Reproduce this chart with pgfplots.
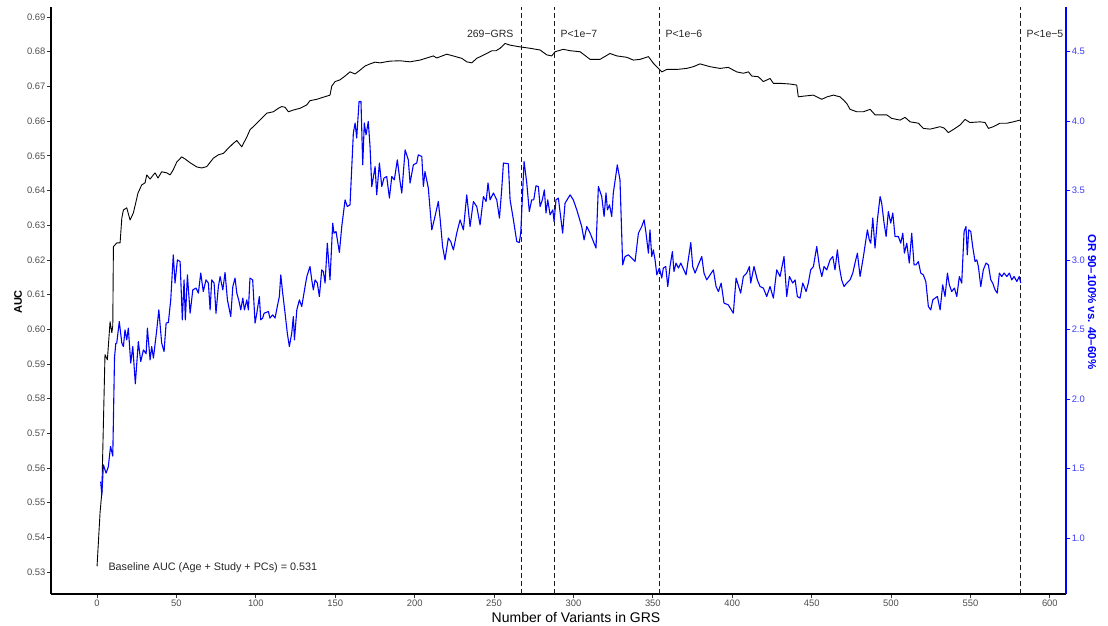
\documentclass[border=0pt]{standalone}
\usepackage{fontspec}
\setmainfont{Liberation Sans}
\usepackage{pgfplots}
\pgfplotsset{compat=1.18}
\definecolor{tickgrey}{RGB}{77,77,77}
\definecolor{tickdark}{RGB}{51,51,51}
\definecolor{orblue}{RGB}{0,0,255}
\definecolor{orlab}{RGB}{60,60,255}
\pgfplotsset{/pgf/number format/assume math mode=true}
\begin{document}
\begin{tikzpicture}[x=1pt,y=1pt]
\useasboundingbox (0,0) rectangle (1108,625);
\begin{axis}[
  at={(51pt,31pt)}, anchor=south west,
  scale only axis, width=1015pt, height=587pt,
  xmin=-29, xmax=610.2, ymin=0.5237, ymax=0.6929,
  axis x line*=bottom, axis y line*=left,
  axis line style={-, line width=1.3pt, black},
  xtick={0,50,100,150,200,250,300,350,400,450,500,550,600},
  ytick={0.53,0.54,0.55,0.56,0.57,0.58,0.59,0.60,0.61,0.62,0.63,0.64,0.65,0.66,0.67,0.68,0.69},
  tick align=outside, major tick length=4pt,
  tick style={tickdark, line width=0.8pt},
  ticklabel style={font=\fontsize{9.4}{10}\selectfont, text=tickgrey, inner sep=1.5pt},
  yticklabel style={/pgf/number format/.cd, fixed, fixed zerofill, precision=2},
  xticklabel style={/pgf/number format/.cd, fixed, precision=0},
]
\addplot[black, line width=0.9pt, line join=round] coordinates {
(0,0.5317) (1.9,0.5472) (3.0,0.5529) (5.0,0.5927) (6.5,0.5912) (8.2,0.6022) (9.3,0.5990) (9.9,0.6010) (10.3,0.6238) (12.4,0.6249) (14.5,0.6249) (15.6,0.6321) (16.6,0.6344) (18.7,0.6350) (20.8,0.6315) (22.9,0.6336) (25.8,0.6393) (28.1,0.6416) (30.2,0.6422) (31.3,0.6445) (33.4,0.6433) (36.5,0.6451) (38.4,0.6436) (40.7,0.6454) (43.9,0.6451) (46.0,0.6445) (47.9,0.6459) (50.2,0.6482) (53.3,0.6497) (55.4,0.6491) (58.6,0.6480) (62.8,0.6468) (65.9,0.6465) (69.1,0.6469) (73.2,0.6493) (76.4,0.6503) (79.5,0.6507) (82.7,0.6522) (85.8,0.6536) (88.0,0.6544) (91.1,0.6526) (94.3,0.6554) (96.3,0.6575) (99.5,0.6589) (103.7,0.6608) (106.9,0.6623) (111.0,0.6627) (114.2,0.6637) (116.3,0.6642) (118.4,0.6640) (120.5,0.6627) (123.6,0.6632) (127.8,0.6637) (132.1,0.6647) (134.1,0.6659) (138.4,0.6663) (142.5,0.6669) (146.7,0.6675) (147.8,0.6701) (149.9,0.6714) (153.0,0.6719) (156.2,0.6730) (159.3,0.6742) (162.5,0.6736) (165.6,0.6747) (168.8,0.6759) (171.9,0.6765) (175.1,0.6770) (178.2,0.6768) (184.5,0.6773) (190.8,0.6774) (197.0,0.6771) (203.4,0.6776) (211.8,0.6788) (213.9,0.6782) (220.2,0.6793) (224.2,0.6788) (229.7,0.6781) (232.8,0.6771) (236.0,0.6768) (239.1,0.6781) (245.4,0.6795) (248.6,0.6803) (251.3,0.6803) (253.8,0.6810) (256.9,0.6824) (260.1,0.6819) (266.4,0.6814) (272.7,0.6810) (279.0,0.6805) (283.2,0.6791) (286.3,0.6788) (288.4,0.6800) (293.6,0.6807) (297.9,0.6803) (304.2,0.6800) (310.5,0.6778) (316.7,0.6778) (323.0,0.6795) (327.3,0.6788) (333.6,0.6784) (337.7,0.6776) (341.9,0.6778) (347.2,0.6786) (350.3,0.6767) (353.5,0.6752) (355.6,0.6742) (358.8,0.6749) (365.1,0.6749) (371.3,0.6752) (375.5,0.6757) (379.7,0.6765) (386.0,0.6757) (392.3,0.6752) (397.5,0.6755) (402.8,0.6742) (407.0,0.6738) (410.2,0.6742) (412.3,0.6730) (416.4,0.6728) (419.6,0.6714) (423.8,0.6723) (425.9,0.6709) (430.1,0.6709) (436.4,0.6707) (440.6,0.6704) (441.6,0.6670) (444.8,0.6672) (451.1,0.6675) (456.4,0.6663) (459.7,0.6670) (463.7,0.6675) (467.9,0.6670) (470.0,0.6661) (472.1,0.6651) (474.2,0.6634) (478.4,0.6627) (482.6,0.6627) (486.8,0.6634) (490.0,0.6618) (497.3,0.6618) (500.4,0.6608) (505.7,0.6603) (508.8,0.6611) (512.0,0.6598) (517.2,0.6594) (520.4,0.6579) (524.6,0.6577) (530.9,0.6584) (533.4,0.6580) (536.1,0.6567) (540.3,0.6579) (543.5,0.6589) (546.6,0.6605) (549.7,0.6596) (556.0,0.6598) (559.2,0.6596) (561.3,0.6579) (564.4,0.6584) (568.6,0.6594) (572.9,0.6594) (577.0,0.6598) (581.2,0.6603)
};
\addplot[black!90, line width=0.9pt, dash pattern=on 5pt off 3pt] coordinates {(267,0.5237) (267,0.6929)};
\addplot[black!90, line width=0.9pt, dash pattern=on 5pt off 3pt] coordinates {(288,0.5237) (288,0.6929)};
\addplot[black!90, line width=0.9pt, dash pattern=on 5pt off 3pt] coordinates {(354,0.5237) (354,0.6929)};
\addplot[black!90, line width=0.9pt, dash pattern=on 5pt off 3pt] coordinates {(581.2,0.5237) (581.2,0.6929)};
\end{axis}
\begin{axis}[
  at={(51pt,31pt)}, anchor=south west,
  scale only axis, width=1015pt, height=587pt,
  xmin=-29, xmax=610.2, ymin=0.597, ymax=4.822,
  axis x line=none, axis y line*=right,
  axis line style={-, line width=1.3pt, orblue},
  xtick=\empty,
  ytick={1.0,1.5,2.0,2.5,3.0,3.5,4.0,4.5},
  tick align=outside, major tick length=4pt,
  y tick style={orblue, line width=0.8pt},
  yticklabel style={font=\fontsize{9.4}{10}\selectfont, text=orlab, inner sep=1.5pt, /pgf/number format/.cd, fixed, fixed zerofill, precision=1},
]
\addplot[orblue, line width=1.1pt, line join=round] coordinates {
(2.3,1.406) (3.0,1.310) (4.0,1.526) (5.7,1.467) (7.1,1.514) (8.5,1.660) (9.9,1.590) (11.0,2.300) (11.8,2.400) (12.4,2.403) (14.0,2.558) (15.6,2.403) (16.6,2.378) (17.6,2.498) (18.7,2.426) (19.7,2.511) (21.2,2.259) (22.5,2.378) (24.1,2.110) (26.0,2.414) (27.5,2.270) (29.2,2.354) (30.9,2.326) (31.7,2.511) (33.4,2.282) (34.4,2.378) (35.5,2.295) (37.6,2.498) (38.9,2.642) (40.7,2.403) (42.2,2.342) (43.5,2.547) (44.9,2.551) (46.4,2.714) (48.0,3.038) (49.1,2.835) (50.6,3.002) (52.3,2.990) (53.7,2.570) (54.8,2.858) (55.6,2.570) (56.9,2.894) (58.6,2.618) (60.3,2.786) (62.3,2.799) (63.8,2.763) (65.3,2.907) (66.9,2.774) (68.6,2.858) (70.1,2.835) (71.2,2.642) (72.2,2.858) (73.7,2.835) (74.9,2.618) (76.4,2.810) (77.5,2.882) (79.2,2.786) (80.6,2.911) (82.1,2.714) (84.2,2.594) (85.5,2.810) (86.9,2.871) (88.0,2.763) (89.2,2.714) (90.5,2.642) (91.8,2.727) (92.8,2.642) (94.3,2.714) (95.3,2.642) (96.3,2.871) (98.0,2.858) (99.5,2.547) (100.6,2.618) (102.2,2.738) (103.1,2.570) (104.3,2.583) (105.2,2.618) (107.9,2.630) (108.9,2.583) (110.6,2.606) (112.1,2.583) (113.5,2.666) (114.8,2.738) (115.7,2.894) (116.9,2.763) (118.4,2.618) (119.8,2.475) (121.1,2.378) (122.6,2.475) (123.6,2.594) (124.3,2.426) (125.8,2.642) (127.4,2.714) (128.9,2.666) (131.0,2.810) (132.1,2.882) (134.1,2.954) (135.2,2.858) (136.2,2.786) (137.3,2.858) (138.7,2.835) (140.0,2.738) (141.5,2.930) (142.5,2.918) (143.6,2.835) (145.0,3.122) (146.7,2.858) (148.4,3.266) (149.2,3.194) (150.5,3.206) (152.6,3.055) (154.1,3.242) (156.2,3.434) (157.6,3.386) (159.3,3.398) (161.4,3.915) (162.5,3.987) (163.5,3.879) (165.0,4.142) (166.2,4.142) (167.3,3.686) (168.3,3.987) (169.4,3.902) (170.8,3.998) (171.9,3.818) (173.0,3.530) (175.1,3.674) (176.1,3.470) (177.8,3.699) (179.3,3.530) (180.7,3.591) (182.4,3.602) (184.1,3.447) (185.6,3.602) (187.2,3.578) (189.1,3.722) (190.8,3.566) (191.9,3.483) (194.0,3.794) (196.0,3.722) (197.1,3.555) (199.2,3.686) (201.3,3.699) (202.3,3.758) (204.5,3.746) (205.5,3.530) (206.5,3.638) (208.6,3.519) (210.8,3.218) (212.8,3.314) (214.9,3.422) (216.0,3.303) (217.6,3.098) (219.1,3.002) (221.2,3.159) (222.7,3.134) (224.4,3.074) (226.5,3.194) (228.6,3.290) (230.7,3.218) (232.8,3.470) (234.9,3.242) (237.0,3.422) (239.1,3.386) (241.2,3.254) (243.3,3.458) (245.0,3.422) (246.2,3.555) (247.5,3.434) (249.6,3.483) (251.7,3.434) (253.4,3.302) (254.8,3.506) (255.9,3.699) (259.0,3.694) (260.1,3.434) (262.2,3.290) (264.3,3.134) (265.9,3.127) (266.8,3.194) (268.9,3.710) (270.6,3.555) (272.2,3.350) (273.7,3.434) (275.0,3.434) (276.4,3.535) (277.9,3.530) (279.0,3.386) (280.4,3.434) (281.7,3.506) (282.7,3.339) (283.8,3.434) (285.3,3.326) (287.0,3.362) (287.8,3.278) (289.0,3.434) (290.5,3.447) (293.2,3.194) (294.7,3.410) (297.9,3.470) (299.9,3.434) (302.1,3.362) (305.2,3.242) (306.7,3.146) (308.4,3.242) (310.5,3.194) (314.2,3.087) (315.7,3.530) (317.8,3.458) (319.3,3.314) (320.5,3.483) (321.4,3.362) (322.7,3.398) (324.1,3.314) (325.1,3.483) (326.6,3.602) (327.6,3.686) (329.3,3.578) (331.0,2.966) (332.5,3.026) (334.6,3.038) (338.8,2.990) (340.9,3.194) (343.0,3.242) (344.5,3.290) (345.7,3.194) (347.2,3.050) (348.2,3.218) (349.3,3.026) (350.3,3.074) (351.4,3.002) (352.5,2.894) (354.1,2.943) (355.6,2.871) (356.6,2.943) (358.1,2.954) (359.4,2.810) (360.8,2.954) (362.3,3.062) (363.3,2.918) (364.6,2.979) (366.1,2.943) (367.6,2.979) (370.9,2.894) (373.9,3.127) (375.1,2.954) (376.6,2.907) (378.6,2.966) (380.8,3.026) (382.2,2.907) (383.9,2.858) (388.1,2.930) (389.8,2.810) (391.3,2.774) (393.0,2.835) (394.8,2.691) (397.5,2.678) (400.7,2.618) (402.4,2.871) (405.3,2.763) (407.0,2.882) (409.1,2.907) (410.8,2.954) (411.6,2.835) (413.7,2.954) (415.8,2.858) (417.5,2.810) (419.6,2.799) (421.7,2.738) (423.8,2.810) (425.9,2.727) (428.0,2.930) (430.1,2.882) (432.6,3.026) (434.3,2.738) (436.0,2.882) (438.1,2.835) (439.6,2.858) (441.0,2.738) (442.7,2.727) (444.4,2.835) (446.5,2.774) (447.9,2.835) (449.4,2.930) (451.1,2.954) (453.2,3.098) (454.9,2.954) (456.4,2.882) (457.8,2.954) (459.5,2.930) (461.6,3.002) (463.3,3.026) (464.7,2.930) (466.2,3.074) (467.4,2.954) (468.9,2.858) (470.4,2.810) (472.1,2.835) (474.2,2.858) (475.9,2.907) (477.3,2.979) (478.8,3.050) (480.5,2.882) (482.6,3.026) (485.1,3.218) (486.3,3.146) (487.2,3.122) (488.5,3.303) (489.9,3.087) (491.4,3.290) (493.1,3.458) (494.1,3.411) (495.6,3.267) (496.9,3.170) (498.3,3.350) (499.8,3.267) (501.1,3.339) (502.5,3.170) (504.6,3.170) (506.1,3.122) (507.4,3.194) (508.4,3.050) (509.9,3.122) (511.5,2.979) (513.0,3.194) (514.5,2.966) (515.7,2.966) (517.2,2.990) (518.7,2.907) (520.3,2.894) (521.9,2.846) (523.5,2.666) (525.0,2.642) (526.3,2.714) (527.7,2.727) (529.2,2.738) (530.9,2.642) (532.5,2.822) (534.0,2.738) (535.5,2.907) (536.7,2.822) (538.2,2.774) (539.9,2.799) (541.4,2.738) (543.0,2.882) (544.5,2.835) (546.0,3.206) (547.2,3.242) (548.0,3.038) (548.9,3.218) (550.2,3.206) (551.4,3.098) (552.9,2.990) (554.0,3.002) (555.0,2.954) (556.5,2.810) (558.1,2.930) (559.8,2.979) (561.3,2.966) (562.8,2.858) (564.0,2.835) (565.5,2.786) (566.9,2.763) (568.2,2.907) (569.7,2.882) (571.2,2.907) (572.9,2.882) (574.5,2.907) (576.0,2.858) (577.5,2.882) (579.2,2.846) (580.7,2.882) (581.7,2.835)
};
\end{axis}
\node[rotate=90, font=\fontsize{11}{13}\selectfont\bfseries] at (18,323) {AUC};
\node[rotate=-90, font=\fontsize{11.5}{13}\selectfont\bfseries, text=orblue] at (1092,323) {OR 90–100\% vs. 40–60\%};
\node[font=\fontsize{14}{16}\selectfont] at (576,8) {Number of Variants in GRS};
\node[anchor=east, font=\fontsize{10.5}{12}\selectfont, text=black!85] at (517,591) {269−GRS};
\node[anchor=west, font=\fontsize{10.5}{12}\selectfont, text=black!85] at (557,591) {P<1e−7};
\node[anchor=west, font=\fontsize{10.5}{12}\selectfont, text=black!85] at (662,591) {P<1e−6};
\node[anchor=west, font=\fontsize{10.5}{12}\selectfont, text=black!85] at (1023,591) {P<1e−5};
\node[anchor=west, font=\fontsize{10.8}{12}\selectfont, text=black!85] at (105,57) {Baseline AUC (Age + Study + PCs) = 0.531};
\end{tikzpicture}
\end{document}
